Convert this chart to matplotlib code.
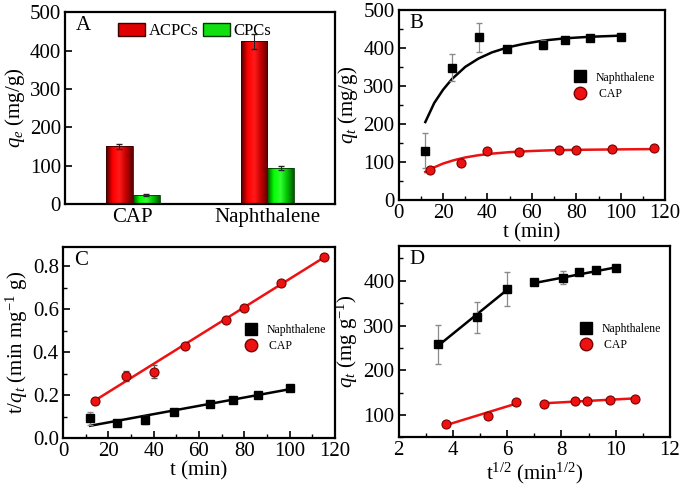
import numpy as np
import matplotlib
matplotlib.use("Agg")
import matplotlib.pyplot as plt
from matplotlib.colors import LinearSegmentedColormap
from matplotlib.patches import Patch
from matplotlib.ticker import MultipleLocator

plt.rcParams["font.family"] = "Liberation Serif"
plt.rcParams["mathtext.fontset"] = "custom"
plt.rcParams["mathtext.rm"] = "Liberation Serif"
plt.rcParams["mathtext.it"] = "Liberation Serif:italic"
plt.rcParams["xtick.direction"] = "in"
plt.rcParams["ytick.direction"] = "in"
plt.rcParams["axes.linewidth"] = 1.6
plt.rcParams["xtick.major.width"] = 1.2
plt.rcParams["ytick.major.width"] = 1.2
plt.rcParams["xtick.minor.width"] = 1.0
plt.rcParams["ytick.minor.width"] = 1.0
plt.rcParams["xtick.major.size"] = 5
plt.rcParams["ytick.major.size"] = 5
plt.rcParams["xtick.minor.size"] = 3
plt.rcParams["ytick.minor.size"] = 3

# -------------------------
# Panel A data
# -------------------------
pollutants = ["CAP", "Naphthalene"]
acpcs = [150, 424]
acpcs_err = [7, 20]
cpcs = [24, 93]
cpcs_err = [2, 5]

# -------------------------
# Panel B data (kinetics)
# -------------------------
t_nap = [12, 24, 36, 49, 65, 75, 86, 100]
q_nap = [130, 348, 428, 398, 408, 420, 425, 428]
q_nap_err = [45, 35, 38, 5, 12, 5, 4, 4]
t_cap = [14, 28, 40, 54, 72, 80, 96, 115]
q_cap = [80, 97, 128, 126, 131, 131, 133, 136]
q_cap_err = [4, 5, 4, 3, 3, 3, 3, 3]

fit_t_nap = [12, 16, 20, 24, 30, 36, 42, 49, 56, 65, 75, 86, 100]
fit_q_nap = [205, 255, 290, 318, 350, 372, 388, 401, 410, 419, 425, 429, 432]
fit_t_cap = [12, 16, 20, 25, 30, 35, 40, 50, 60, 70, 80, 96, 115]
fit_q_cap = [74, 86, 96, 105, 112, 117, 121, 126, 129, 131, 132, 133, 134]

# -------------------------
# Panel C data (pseudo-second-order)
# -------------------------
tq_nap = [0.093, 0.069, 0.084, 0.123, 0.160, 0.178, 0.202, 0.234]
tq_nap_err = [0.03, 0.005, 0.02, 0.005, 0.005, 0.005, 0.005, 0.005]
tq_cap = [0.175, 0.290, 0.310, 0.430, 0.550, 0.605, 0.720, 0.845]
tq_cap_err = [0.01, 0.025, 0.03, 0.01, 0.01, 0.01, 0.01, 0.01]
line_t_nap = [12, 100]
line_tq_nap = [0.058, 0.228]
line_t_cap = [14, 115]
line_tq_cap = [0.175, 0.840]

# -------------------------
# Panel D data (intraparticle diffusion)
# -------------------------
s_nap1 = [3.46, 4.90, 6.00]
d_nap1 = [258, 318, 381]
d_nap1_err = [43, 35, 38]
s_nap2 = [7.00, 8.06, 8.66, 9.27, 10.00]
d_nap2 = [397, 407, 420, 425, 428]
d_nap2_err = [4, 15, 5, 4, 4]
s_cap1 = [3.74, 5.29, 6.32]
d_cap1 = [79, 97, 128]
s_cap2 = [7.35, 8.49, 8.94, 9.80, 10.72]
d_cap2 = [125, 131, 132, 133, 136]
fit_s_nap1 = [3.46, 6.00]
fit_d_nap1 = [255, 380]
fit_s_nap2 = [7.00, 10.00]
fit_d_nap2 = [395, 430]
fit_s_cap1 = [3.74, 6.32]
fit_d_cap1 = [77, 125]
fit_s_cap2 = [7.35, 10.72]
fit_d_cap2 = [126, 137]

red = "#ee1111"
red_edge = "#7a0000"
grey = "#8a8a8a"
SQ = 5.5

fig = plt.figure(figsize=(6.85, 4.88), dpi=100)
axA = fig.add_axes([0.095, 0.582, 0.394, 0.393])
axB = fig.add_axes([0.582, 0.590, 0.389, 0.390])
axC = fig.add_axes([0.092, 0.102, 0.397, 0.392])
axD = fig.add_axes([0.582, 0.104, 0.396, 0.392])

LABEL_FS = 15
TICK_FS = 15


def gradient_bars(ax, bars, colors):
    cmap = LinearSegmentedColormap.from_list("g", colors)
    grad = np.atleast_2d(np.linspace(0, 1, 200))
    for bar in bars:
        x, y = bar.get_xy()
        w, h = bar.get_width(), bar.get_height()
        im = ax.imshow(grad, extent=[x, x + w, y, y + h], aspect="auto",
                       cmap=cmap, zorder=2)
        im.set_clip_path(bar)


def sphere(ax, x, y, size=6.5, **kw):
    ax.plot(x, y, "o", ms=size, mfc=red, mec=red_edge, mew=0.8, **kw)


# =========================================================
# A. bar chart
# =========================================================
xpos = np.arange(len(pollutants))
w = 0.2
b1 = axA.bar(xpos - w / 2, acpcs, w, color="none", edgecolor="#3a0000",
             linewidth=0.6, zorder=3)
b2 = axA.bar(xpos + w / 2, cpcs, w, color="none", edgecolor="#003a00",
             linewidth=0.6, zorder=3)
gradient_bars(axA, b1, ["#4a0000", "#ff0000", "#ff1a1a", "#c00000", "#5a0000"])
gradient_bars(axA, b2, ["#004a00", "#00ff00", "#33ff33", "#00c000", "#005a00"])
axA.errorbar(xpos - w / 2, acpcs, yerr=acpcs_err, fmt="none", ecolor="#222222",
             elinewidth=0.8, capsize=2.5, zorder=4)
axA.errorbar(xpos + w / 2, cpcs, yerr=cpcs_err, fmt="none", ecolor="#222222",
             elinewidth=0.8, capsize=2.5, zorder=4)
axA.set_xlim(-0.5, 1.5)
axA.set_ylim(0, 500)
axA.set_xticks(xpos)
axA.set_xticklabels(pollutants)
axA.tick_params(axis="x", length=0)
axA.yaxis.set_major_locator(MultipleLocator(100))
axA.set_ylabel("$q_e$ (mg/g)", fontsize=LABEL_FS, labelpad=2)
axA.text(0.04, 0.93, "A", transform=axA.transAxes, fontsize=LABEL_FS, va="center")
handles = [Patch(facecolor="#e00000", edgecolor="#3a0000", label="ACPCs"),
           Patch(facecolor="#10e010", edgecolor="#003a00", label="CPCs")]
axA.legend(handles=handles, loc="upper center", bbox_to_anchor=(0.48, 1.0),
           ncol=2, frameon=False, fontsize=12, handlelength=1.6,
           handleheight=0.8, handletextpad=0.2, columnspacing=0.3,
           borderaxespad=0.25)

# =========================================================
# B. kinetics
# =========================================================
axB.plot(fit_t_nap, fit_q_nap, color="black", lw=1.8, zorder=2)
axB.plot(fit_t_cap, fit_q_cap, color=red, lw=1.8, zorder=2)
axB.errorbar(t_nap, q_nap, yerr=q_nap_err, fmt="s", ms=SQ, color="black",
             ecolor=grey, elinewidth=0.9, capsize=2.5, zorder=3)
axB.errorbar(t_cap, q_cap, yerr=q_cap_err, fmt="none", ecolor="#333333",
             elinewidth=0.8, capsize=2, zorder=3)
sphere(axB, t_cap, q_cap, zorder=4)
axB.set_xlim(0, 120)
axB.set_ylim(0, 500)
axB.xaxis.set_major_locator(MultipleLocator(20))
axB.xaxis.set_minor_locator(MultipleLocator(10))
axB.yaxis.set_major_locator(MultipleLocator(100))
axB.yaxis.set_minor_locator(MultipleLocator(50))
axB.set_xlabel("t (min)", fontsize=LABEL_FS, labelpad=0)
axB.set_ylabel("$q_t$ (mg/g)", fontsize=LABEL_FS, labelpad=2)
axB.text(0.04, 0.93, "B", transform=axB.transAxes, fontsize=LABEL_FS, va="center")

# =========================================================
# C. pseudo-second-order
# =========================================================
axC.plot(line_t_nap, line_tq_nap, color="black", lw=1.8, zorder=2)
axC.plot(line_t_cap, line_tq_cap, color=red, lw=1.8, zorder=2)
axC.errorbar(t_nap, tq_nap, yerr=tq_nap_err, fmt="s", ms=SQ, color="black",
             ecolor=grey, elinewidth=0.9, capsize=2.5, zorder=3)
axC.errorbar(t_cap, tq_cap, yerr=tq_cap_err, fmt="none", ecolor="#555555",
             elinewidth=0.8, capsize=2, zorder=3)
sphere(axC, t_cap, tq_cap, zorder=4)
axC.set_xlim(0, 120)
axC.set_ylim(0, 0.89)
axC.xaxis.set_major_locator(MultipleLocator(20))
axC.xaxis.set_minor_locator(MultipleLocator(10))
axC.yaxis.set_major_locator(MultipleLocator(0.2))
axC.yaxis.set_minor_locator(MultipleLocator(0.1))
axC.yaxis.set_major_formatter(matplotlib.ticker.FormatStrFormatter("%.1f"))
axC.set_xlabel("t (min)", fontsize=LABEL_FS, labelpad=0)
axC.set_ylabel("t/$q_t$ (min mg$^{-1}$ g)", fontsize=LABEL_FS, labelpad=2)
axC.text(0.04, 0.93, "C", transform=axC.transAxes, fontsize=LABEL_FS, va="center")

# =========================================================
# D. intraparticle diffusion
# =========================================================
for sx, sy in [(fit_s_nap1, fit_d_nap1), (fit_s_nap2, fit_d_nap2)]:
    axD.plot(sx, sy, color="black", lw=1.8, zorder=2)
for sx, sy in [(fit_s_cap1, fit_d_cap1), (fit_s_cap2, fit_d_cap2)]:
    axD.plot(sx, sy, color=red, lw=1.8, zorder=2)
for sx, sy, se in [(s_nap1, d_nap1, d_nap1_err), (s_nap2, d_nap2, d_nap2_err)]:
    axD.errorbar(sx, sy, yerr=se, fmt="s", ms=SQ, color="black",
                 ecolor=grey, elinewidth=0.9, capsize=2.5, zorder=3)
sphere(axD, s_cap1, d_cap1, zorder=4)
sphere(axD, s_cap2, d_cap2, zorder=4)
axD.set_xlim(2, 12)
axD.set_ylim(50, 478)
axD.xaxis.set_major_locator(MultipleLocator(2))
axD.xaxis.set_minor_locator(MultipleLocator(1))
axD.yaxis.set_major_locator(MultipleLocator(100))
axD.yaxis.set_minor_locator(MultipleLocator(50))
axD.set_xlabel("t$^{1/2}$ (min$^{1/2}$)", fontsize=LABEL_FS, labelpad=0)
axD.set_ylabel("$q_t$ (mg g$^{-1}$)", fontsize=LABEL_FS, labelpad=2)
axD.text(0.04, 0.93, "D", transform=axD.transAxes, fontsize=LABEL_FS, va="center")

# legends for B, C, D
for ax, anchor in [(axB, (0.62, 0.70)), (axC, (0.63, 0.62)), (axD, (0.63, 0.62))]:
    h1 = plt.Line2D([], [], marker="s", ls="none", ms=8, color="black")
    h2 = plt.Line2D([], [], marker="o", ls="none", ms=9, mfc=red, mec=red_edge)
    ax.legend([h1, h2], ["Naphthalene", " CAP"], loc="upper left",
              bbox_to_anchor=anchor, frameon=False, fontsize=8.5,
              handletextpad=0.3, labelspacing=0.35, borderaxespad=0)

for ax in [axA, axB, axC, axD]:
    ax.tick_params(labelsize=TICK_FS, pad=3)

fig.savefig("out.png", dpi=100)
